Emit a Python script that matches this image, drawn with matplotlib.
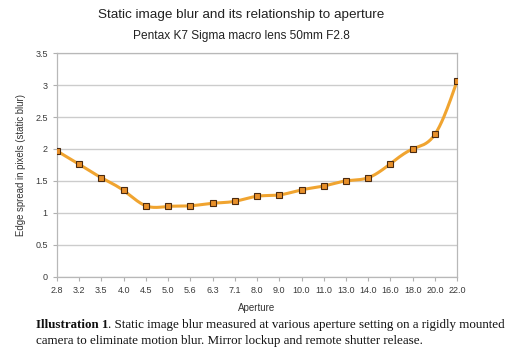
#!/usr/bin/env python3
# coding=utf-8
import matplotlib
matplotlib.use('Agg')
import matplotlib.pyplot as plt
from matplotlib.text import Annotation
import numpy as np

apertures = ['2.8', '3.2', '3.5', '4.0', '4.5', '5.0', '5.6', '6.3', '7.1', '8.0',
             '9.0', '10.0', '11.0', '13.0', '14.0', '16.0', '18.0', '20.0', '22.0']
blur = [1.97, 1.76, 1.55, 1.35, 1.11, 1.10, 1.11, 1.15, 1.18, 1.26,
        1.28, 1.36, 1.42, 1.50, 1.55, 1.77, 2.00, 2.23, 3.07]


def smooth(x, y, n=20):
    # natural cubic spline, like the office chart "smooth line" option
    x = np.asarray(x, float); y = np.asarray(y, float)
    m = len(x); h = np.diff(x)
    A = np.zeros((m, m)); b = np.zeros(m)
    A[0, 0] = A[-1, -1] = 1
    for i in range(1, m - 1):
        A[i, i - 1] = h[i - 1]; A[i, i] = 2 * (h[i - 1] + h[i]); A[i, i + 1] = h[i]
        b[i] = 3 * ((y[i + 1] - y[i]) / h[i] - (y[i] - y[i - 1]) / h[i - 1])
    c = np.linalg.solve(A, b)
    xs, ys = [], []
    for i in range(m - 1):
        t = np.linspace(0, h[i], n, endpoint=False)
        bb = (y[i + 1] - y[i]) / h[i] - h[i] * (2 * c[i] + c[i + 1]) / 3
        d = (c[i + 1] - c[i]) / (3 * h[i])
        xs.append(x[i] + t); ys.append(y[i] + bb * t + c[i] * t**2 + d * t**3)
    xs.append([x[-1]]); ys.append([y[-1]])
    return np.concatenate(xs), np.concatenate(ys)


plt.rcParams['font.family'] = ['Liberation Sans', 'DejaVu Sans']
fig = plt.figure(figsize=(5.12, 3.57), dpi=100)
ax = fig.add_axes([0.111, 0.225, 0.782, 0.626])

pos = np.arange(len(apertures))
sx, sy = smooth(pos, blur)
ax.plot(sx, sy, color='#f0a430', lw=2.2, solid_capstyle='round', zorder=3)
ax.plot(pos, blur, ls='none', marker='s', ms=4.4, mfc='#e8902a', mec='#4a2a10', mew=0.8, zorder=4)

ax.set_xlim(0, len(apertures) - 1)
ax.set_ylim(0, 3.5)
ax.set_yticks(np.arange(0, 3.51, 0.5))
ax.set_yticklabels(['0', '0.5', '1', '1.5', '2', '2.5', '3', '3.5'])
ax.set_xticks(pos)
ax.set_xticklabels(apertures)
ax.tick_params(labelsize=6.5, colors='#b0b0b0', labelcolor='#3a3a3a', length=3, width=0.8)
ax.grid(axis='y', color='#cccccc', lw=1.0)
ax.set_axisbelow(True)
for s in ax.spines.values():
    s.set_color('#b8b8b8'); s.set_linewidth(0.9)

ax.set_xlabel('Aperture', fontsize=7.0, color='#333333', labelpad=6)
ax.set_ylabel('Edge spread in pixels (static blur)', fontsize=6.9, color='#333333', labelpad=7)

fig.text(0.471, 0.958, 'Static image blur and its relationship to aperture',
         ha='center', va='center', fontsize=9.7, color='#222222')
fig.text(0.471, 0.898, 'Pentax K7 Sigma macro lens 50mm F2.8',
         ha='center', va='center', fontsize=8.6, color='#222222')

# caption: bold lead-in, rest of the sentence continues right after it
serif = ['Liberation Serif', 'DejaVu Serif']
cap1 = fig.text(0.070, 0.080, 'Illustration 1', fontsize=9.4, fontweight='bold',
                family=serif, color='#111111', va='baseline')
fig.add_artist(Annotation(
    '. Static image blur measured at various aperture setting on a rigidly mounted',
    xy=(1, 0), xycoords=cap1, va='bottom', ha='left',
    fontsize=9.4, family=serif, color='#111111'))
fig.text(0.070, 0.036, 'camera to eliminate motion blur. Mirror lockup and remote shutter release.',
         fontsize=9.4, family=serif, color='#111111', va='baseline')

fig.savefig('out.png', dpi=100)
